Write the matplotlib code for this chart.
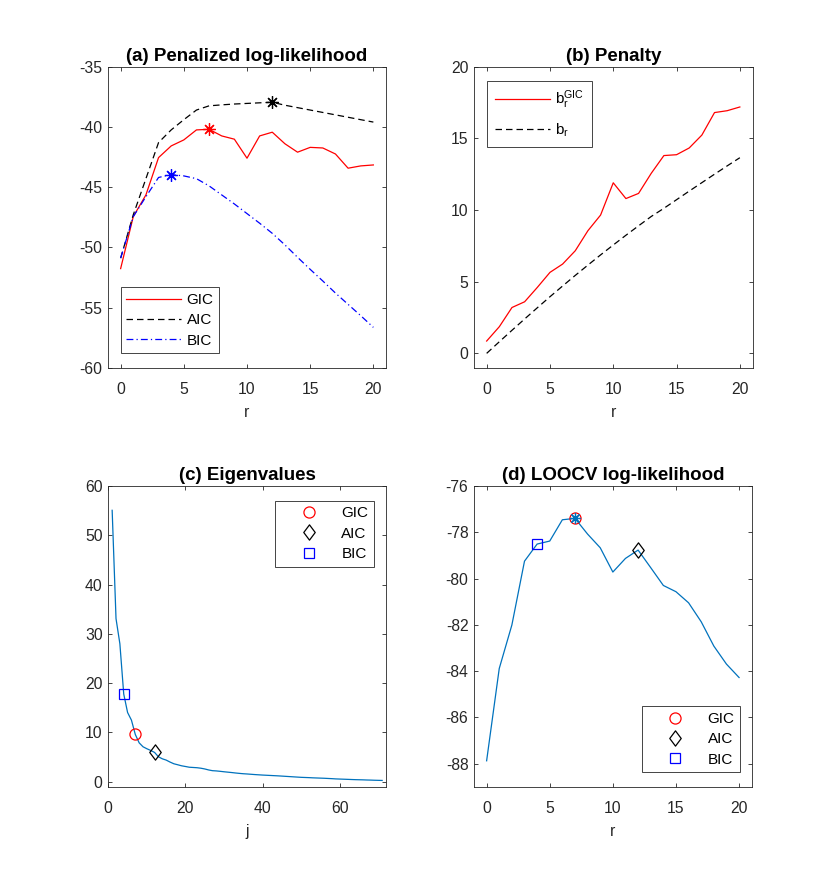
import matplotlib
matplotlib.use("Agg")
import matplotlib.pyplot as plt
import numpy as np
from matplotlib.path import Path

plt.rcParams['font.family'] = ['Liberation Sans', 'DejaVu Sans']
plt.rcParams['mathtext.fontset'] = 'custom'
plt.rcParams['mathtext.rm'] = 'Liberation Sans'
plt.rcParams['mathtext.it'] = 'Liberation Sans'
plt.rcParams['axes.unicode_minus'] = False

# ---------------- data ----------------
r = list(range(0, 21))

pen_gic = [-51.77, -47.45, -45.65, -42.55, -41.58, -41.08, -40.25, -40.2, -40.75, -41.02,
           -42.6, -40.75, -40.44, -41.4, -42.1, -41.7, -41.75, -42.25, -43.43, -43.24, -43.16]
pen_aic = [-50.9, -47.3, -44.3, -41.3, -40.25, -39.4, -38.6, -38.25, -38.17, -38.1,
           -38.05, -38.0, -37.95, -38.2, -38.4, -38.6, -38.8, -39.0, -39.2, -39.4, -39.6]
pen_bic = [-50.9, -47.45, -45.8, -44.2, -43.96, -44.07, -44.3, -44.9, -45.65, -46.4,
           -47.2, -48.0, -48.84, -49.8, -50.83, -51.83, -52.8, -53.8, -54.74, -55.68, -56.65]

b_gic = [0.86, 1.86, 3.2, 3.6, 4.6, 5.65, 6.23, 7.16, 8.56, 9.65, 11.9, 10.8, 11.16,
         12.56, 13.8, 13.86, 14.33, 15.23, 16.8, 16.93, 17.19]
b_r = [0.0, 0.81, 1.61, 2.4, 3.18, 3.95, 4.7, 5.44, 6.16, 6.87, 7.56, 8.24, 8.9,
       9.55, 10.12, 10.72, 11.32, 11.91, 12.5, 13.08, 13.65]

eig = [55.07, 33.1, 28.0, 17.8, 14.05, 12.5, 9.6, 7.9, 7.1, 6.7,
       6.35, 5.95, 5.07, 4.66, 4.4, 4.0, 3.65, 3.45, 3.24, 3.1,
       2.95, 2.9, 2.85, 2.75, 2.6, 2.4, 2.25, 2.2, 2.12, 2.03,
       1.95, 1.87, 1.78, 1.7, 1.63, 1.58, 1.52, 1.46, 1.41, 1.36,
       1.32, 1.28, 1.24, 1.2, 1.15, 1.1, 1.05, 1.0, 0.95, 0.9,
       0.87, 0.84, 0.8, 0.77, 0.74, 0.71, 0.67, 0.63, 0.58, 0.55,
       0.52, 0.49, 0.46, 0.43, 0.41, 0.39, 0.36, 0.34, 0.31, 0.29, 0.27]
j = list(range(1, len(eig) + 1))

loocv = [-87.88, -83.89, -82.01, -79.25, -78.51, -78.38, -77.46, -77.4, -78.08, -78.67,
         -79.72, -79.13, -78.77, -79.53, -80.3, -80.57, -81.05, -81.87, -82.92, -83.7, -84.28]

r_gic, r_aic, r_bic = 7, 12, 4

# ---------------- style ----------------
AXC = '#262626'
BLUE = '#0072BD'
LW = 0.9
FS_TICK = 11.3
FS_LEG = 11
FS_TITLE = 13.5
DASH = (0, (5.2, 3.2))
DASHDOT = (0, (5.5, 2.5, 1.0, 2.5))
ast = (8, 2, 0)
diamond = Path([(0, 1), (0.75, 0), (0, -1), (-0.75, 0), (0, 1)],
               [Path.MOVETO, Path.LINETO, Path.LINETO, Path.LINETO, Path.CLOSEPOLY])

fig = plt.figure(figsize=(8.3, 8.84), dpi=100)
W, H = 830.0, 884.0


def mkax(l, t, r_, b):
    return fig.add_axes([l / W, 1 - b / H, (r_ - l) / W, (b - t) / H])


def style(ax, title, xlabel=None):
    for s in ax.spines.values():
        s.set_color(AXC)
        s.set_linewidth(0.6)
    ax.tick_params(direction='in', top=True, right=True, length=3, width=0.6,
                   color=AXC, labelcolor=AXC, labelsize=FS_TICK)
    ax.tick_params(axis='x', pad=10.5)
    ax.tick_params(axis='y', pad=4)
    ax.set_title(title, fontsize=FS_TITLE, fontweight='bold', pad=4, color='black')
    if xlabel:
        ax.set_xlabel(xlabel, fontsize=FS_TICK, color=AXC, labelpad=5.5)


def leg(ax, labelspacing=0.41, borderpad=0.37, **kw):
    lg = ax.legend(fancybox=False, framealpha=1, edgecolor=AXC, fontsize=FS_LEG,
                   handlelength=3.6, handletextpad=0.35, borderpad=borderpad,
                   labelspacing=labelspacing, borderaxespad=0, **kw)
    lg.get_frame().set_linewidth(0.6)
    for t in lg.get_texts():
        t.set_color('black')
    return lg


# (a)
ax = mkax(108, 66.7, 386, 367.7)
ax.plot(r, pen_gic, color='red', lw=LW, label='GIC')
ax.plot(r, pen_aic, color='black', lw=LW, ls=DASH, label='AIC')
ax.plot(r, pen_bic, color='blue', lw=LW, ls=DASHDOT, label='BIC')
ax.plot([r[r_gic]], [pen_gic[r_gic]], ls='none', marker=ast, ms=9, mew=0.9, color='red')
ax.plot([r[r_aic]], [pen_aic[r_aic]], ls='none', marker=ast, ms=9, mew=0.9, color='black')
ax.plot([r[r_bic]], [pen_bic[r_bic]], ls='none', marker=ast, ms=9, mew=0.9, color='blue')
ax.set_xlim(-1, 21)
ax.set_ylim(-60, -35)
ax.set_xticks([0, 5, 10, 15, 20])
ax.set_yticks([-60, -55, -50, -45, -40, -35])
style(ax, '(a) Penalized log-likelihood', 'r')
leg(ax, loc='lower left', bbox_to_anchor=(0.0457, 0.048))

# (b)
ax = mkax(474, 66.7, 752.5, 367.7)
ax.plot(r, b_gic, color='red', lw=LW, label=r'b$\mathregular{_r^{GIC}}$')
ax.plot(r, b_r, color='black', lw=LW, ls=DASH, label=r'b$\mathregular{_r}$')
ax.set_xlim(-1, 21)
ax.set_ylim(-1, 20)
ax.set_xticks([0, 5, 10, 15, 20])
ax.set_yticks([0, 5, 10, 15, 20])
style(ax, '(b) Penalty', 'r')
leg(ax, labelspacing=0.65, borderpad=0.53, loc='upper left', bbox_to_anchor=(0.0456, 0.9535))

# (c)
ax = mkax(108.3, 486, 386, 786.7)
ax.plot(j, eig, color=BLUE, lw=LW)
ax.plot([j[r_gic - 1]], [eig[r_gic - 1]], ls='none', marker='o', ms=8, mfc='none',
        mec='red', mew=0.9, label='GIC')
ax.plot([j[r_aic - 1]], [eig[r_aic - 1]], ls='none', marker=diamond, ms=11, mfc='none',
        mec='black', mew=0.9, label='AIC')
ax.plot([j[r_bic - 1]], [eig[r_bic - 1]], ls='none', marker='s', ms=7, mfc='none',
        mec='blue', mew=0.9, label='BIC')
ax.set_xlim(0, 72)
ax.set_ylim(-1, 60)
ax.set_xticks([0, 20, 40, 60])
ax.set_yticks([0, 10, 20, 30, 40, 50, 60])
style(ax, '(c) Eigenvalues', 'j')
leg(ax, loc='upper right', bbox_to_anchor=(0.957, 0.951))

# (d)
ax = mkax(474, 486, 751.7, 786.7)
ax.plot(r, loocv, color=BLUE, lw=LW)
ax.plot([r[r_gic]], [loocv[r_gic]], ls='none', marker='o', ms=8, mfc='none',
        mec='red', mew=0.9, label='GIC')
ax.plot([r[r_aic]], [loocv[r_aic]], ls='none', marker=diamond, ms=11, mfc='none',
        mec='black', mew=0.9, label='AIC')
ax.plot([r[r_bic]], [loocv[r_bic]], ls='none', marker='s', ms=7, mfc='none',
        mec='blue', mew=0.9, label='BIC')
ax.plot([r[r_gic]], [loocv[r_gic]], ls='none', marker=ast, ms=8, mew=0.9, color=BLUE)
ax.set_xlim(-1, 21)
ax.set_ylim(-89, -76)
ax.set_xticks([0, 5, 10, 15, 20])
ax.set_yticks([-88, -86, -84, -82, -80, -78, -76])
style(ax, '(d) LOOCV log-likelihood', 'r')
leg(ax, loc='lower right', bbox_to_anchor=(0.959, 0.048))

fig.savefig('out.png', dpi=100, facecolor='white')
